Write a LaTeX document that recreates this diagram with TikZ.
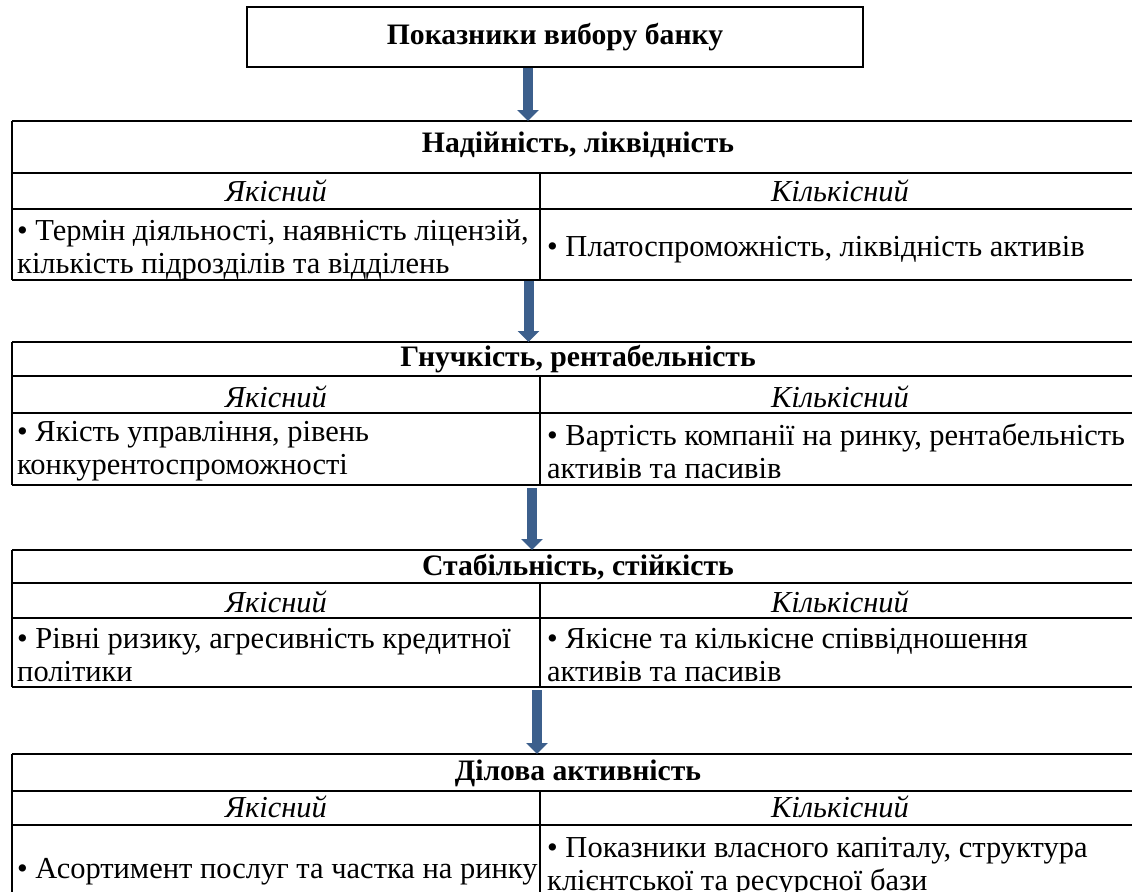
\documentclass[tikz,border=0pt]{standalone}
\usepackage{fontspec}
\setmainfont{Liberation Serif}
\usetikzlibrary{arrows.meta}
\definecolor{arrowblue}{RGB}{60,95,140}
\tikzset{
  txt/.style={inner sep=0pt, font=\fontsize{30.6}{33}\selectfont, align=left},
  head/.style={inner sep=0pt, font=\fontsize{29.8}{33}\selectfont\bfseries},
  sub/.style={inner sep=0pt, font=\fontsize{30.6}{33}\selectfont\itshape},
  outer/.style={line width=2.8bp},
  inner/.style={line width=2.2bp},
  flow/.style={arrowblue, line width=10bp, -{Triangle[width=21bp,length=11bp]}},
}
\begin{document}
\begin{tikzpicture}[x=1bp,y=-1bp]
\useasboundingbox (0,0) rectangle (1132,892);
\clip (0,0) rectangle (1132,892);

% top box
\node[head, draw, line width=2.8bp, minimum width=616bp, minimum height=60bp] (top) at (555,37) {Показники вибору банку};

% ---- table 1
\draw[outer] (12,121) -- (1145,121);
\draw[inner] (12,173) -- (1145,173);
\draw[inner] (12,209) -- (1145,209);
\draw[outer] (12,280) -- (1145,280);
\draw[inner] (12,121) -- (12,280);
\draw[inner] (540,173) -- (540,280);
\coordinate (t1) at (578,121);
\coordinate (b1) at (578,281);
\node[head] (h1) at (578,145) {Надійність, ліквідність};
\node[sub] (q1) at (276,191) {Якісний};
\node[sub] (k1) at (840,191) {Кількісний};
\node[txt, anchor=west] (l1) at (17,250) {• Термін діяльності, наявність ліцензій,\\кількість підрозділів та відділень};
\node[txt, anchor=west] (r1) at (547,250) {• Платоспроможність, ліквідність активів};

% ---- table 2
\draw[outer] (12,342) -- (1145,342);
\draw[inner] (12,376) -- (1145,376);
\draw[inner] (12,413) -- (1145,413);
\draw[outer] (12,485) -- (1145,485);
\draw[inner] (12,342) -- (12,485);
\draw[inner] (540,376) -- (540,485);
\coordinate (t2) at (578,342);
\coordinate (b2) at (578,488);
\node[head] (h2) at (578,359) {Гнучкість, рентабельність};
\node[sub] (q2) at (276,397) {Якісний};
\node[sub] (k2) at (840,397) {Кількісний};
\node[txt, anchor=west] (l2) at (17,451) {• Якість управління, рівень\\конкурентоспроможності};
\node[txt, anchor=west] (r2) at (547,451) {• Вартість компанії на ринку, рентабельність\\активів та пасивів};

% ---- table 3
\draw[outer] (12,550) -- (1145,550);
\draw[inner] (12,583) -- (1145,583);
\draw[inner] (12,618) -- (1145,618);
\draw[outer] (12,687) -- (1145,687);
\draw[inner] (12,550) -- (12,687);
\draw[inner] (540,583) -- (540,687);
\coordinate (t3) at (578,550);
\coordinate (b3) at (578,690);
\node[head] (h3) at (578,567) {Стабільність, стійкість};
\node[sub] (q3) at (276,602) {Якісний};
\node[sub] (k3) at (840,602) {Кількісний};
\node[txt, anchor=west] (l3) at (17,655) {• Рівні ризику, агресивність кредитної\\політики};
\node[txt, anchor=west] (r3) at (547,655) {• Якісне та кількісне співвідношення\\активів та пасивів};

% ---- table 4
\draw[outer] (12,754) -- (1145,754);
\draw[inner] (12,791) -- (1145,791);
\draw[inner] (12,825) -- (1145,825);
\draw[inner] (12,754) -- (12,910);
\draw[inner] (540,791) -- (540,910);
\coordinate (t4) at (578,754);
\node[head] (h4) at (578,773) {Ділова активність};
\node[sub] (q4) at (276,807) {Якісний};
\node[sub] (k4) at (840,807) {Кількісний};
\node[txt, anchor=west] (l4) at (17,872) {• Асортимент послуг та частка на ринку};
\node[txt, anchor=west] (r4) at (547,867) {• Показники власного капіталу, структура\\клієнтської та ресурсної бази};

% ---- arrows
\coordinate (a1) at (528,0);
\coordinate (a2) at (528.5,0);
\coordinate (a3) at (532,0);
\coordinate (a4) at (537,0);
\draw[flow] (top.south -| a1) -- (t1 -| a1);
\draw[flow] (b1 -| a2) -- (t2 -| a2);
\draw[flow] (b2 -| a3) -- (t3 -| a3);
\draw[flow] (b3 -| a4) -- (t4 -| a4);
\end{tikzpicture}
\end{document}
